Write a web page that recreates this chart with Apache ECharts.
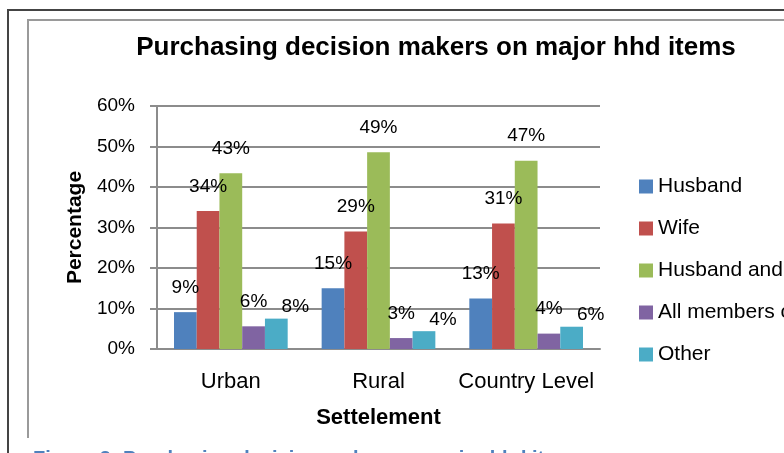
<!DOCTYPE html>
<html>
<head>
<meta charset="utf-8">
<script src="https://cdn.jsdelivr.net/npm/echarts@6/dist/echarts.min.js"></script>
<style>
html,body{margin:0;padding:0;background:#fff;}
#chart{width:784px;height:453px;}
</style>
</head>
<body>
<div id="chart"></div>
<script>
const categories = ['Urban', 'Rural', 'Country Level'];
const seriesNames = ['Husband', 'Wife', 'Husband and Wife', 'All members of the household', 'Other'];
const husband = [9.1, 15.0, 12.5];
const wife = [34.1, 29.0, 31.0];
const husbandAndWife = [43.4, 48.6, 46.5];
const allMembers = [5.6, 2.7, 3.8];
const other = [7.5, 4.4, 5.5];
const yTicks = [0, 10, 20, 30, 40, 50, 60];

const seriesValues = [husband, wife, husbandAndWife, allMembers, other];
const colors = ['#4F81BD', '#C0504D', '#9BBB59', '#8064A2', '#4BACC6'];
const FONT = "'Liberation Sans', Arial, sans-serif";

const chart = echarts.init(document.getElementById('chart'));
chart.setOption({
  animation: false,
  color: colors,
  textStyle: { fontFamily: FONT },
  title: {
    text: 'Purchasing decision makers on major hhd items',
    left: 431, top: 30, textAlign: 'center',
    textStyle: { fontFamily: FONT, fontSize: 26, fontWeight: 'bold', color: '#000' }
  },
  grid: { left: 157, top: 106, width: 443, height: 243, containLabel: false },
  legend: {
    orient: 'vertical', left: 639, top: 176, padding: 0,
    itemWidth: 14, itemHeight: 14, itemGap: 21,
    icon: 'rect',
    textStyle: { fontFamily: FONT, fontSize: 21, color: '#000', lineHeight: 21 },
    data: seriesNames
  },
  xAxis: {
    type: 'category', data: categories,
    name: 'Settelement', nameLocation: 'middle', nameGap: 58,
    nameTextStyle: { fontFamily: FONT, fontSize: 22, fontWeight: 'bold', color: '#000' },
    axisLine: { lineStyle: { color: '#8c8c8c', width: 2 } },
    axisTick: { show: false },
    axisLabel: { interval: 0, fontFamily: FONT, fontSize: 22, color: '#000', margin: 22 }
  },
  yAxis: {
    type: 'value', min: yTicks[0], max: yTicks[yTicks.length - 1], interval: 10,
    name: 'Percentage', nameLocation: 'middle', nameGap: 70, nameRotate: 90,
    nameTextStyle: { fontFamily: FONT, fontSize: 21, fontWeight: 'bold', color: '#000' },
    axisLine: { show: true, lineStyle: { color: '#8c8c8c', width: 2 } },
    axisTick: { show: true, length: 7, lineStyle: { color: '#8c8c8c', width: 2 } },
    splitLine: { lineStyle: { color: '#8c8c8c', width: 2 } },
    axisLabel: { fontFamily: FONT, fontSize: 19, color: '#000', margin: 22, formatter: '{value}%' }
  },
  series: seriesNames.map((name, i) => ({
    name: name,
    type: 'bar',
    data: seriesValues[i],
    barGap: '0%',
    barCategoryGap: '23%',
    label: {
      show: true, position: 'top', distance: 15,
      offset: i === 4 ? [19, 13] : [0, 0],
      fontFamily: FONT, fontSize: 19, color: '#000',
      formatter: p => Math.round(p.value) + '%'
    }
  })),
  graphic: [
    { type: 'polyline', shape: { points: [[8, 453], [8, 10], [784, 10]] }, style: { stroke: '#444', lineWidth: 2, fill: null } },
    { type: 'polyline', shape: { points: [[28, 438], [28, 20], [784, 20]] }, style: { stroke: '#9a9a9a', lineWidth: 2, fill: null } },
    { type: 'text', left: 33, top: 449, style: { text: 'Figure 3: Purchasing decision makers on major hhd items', fontFamily: FONT, fontSize: 20, fontWeight: 'bold', fill: '#4F81BD' } }
  ]
});
</script>
</body>
</html>
